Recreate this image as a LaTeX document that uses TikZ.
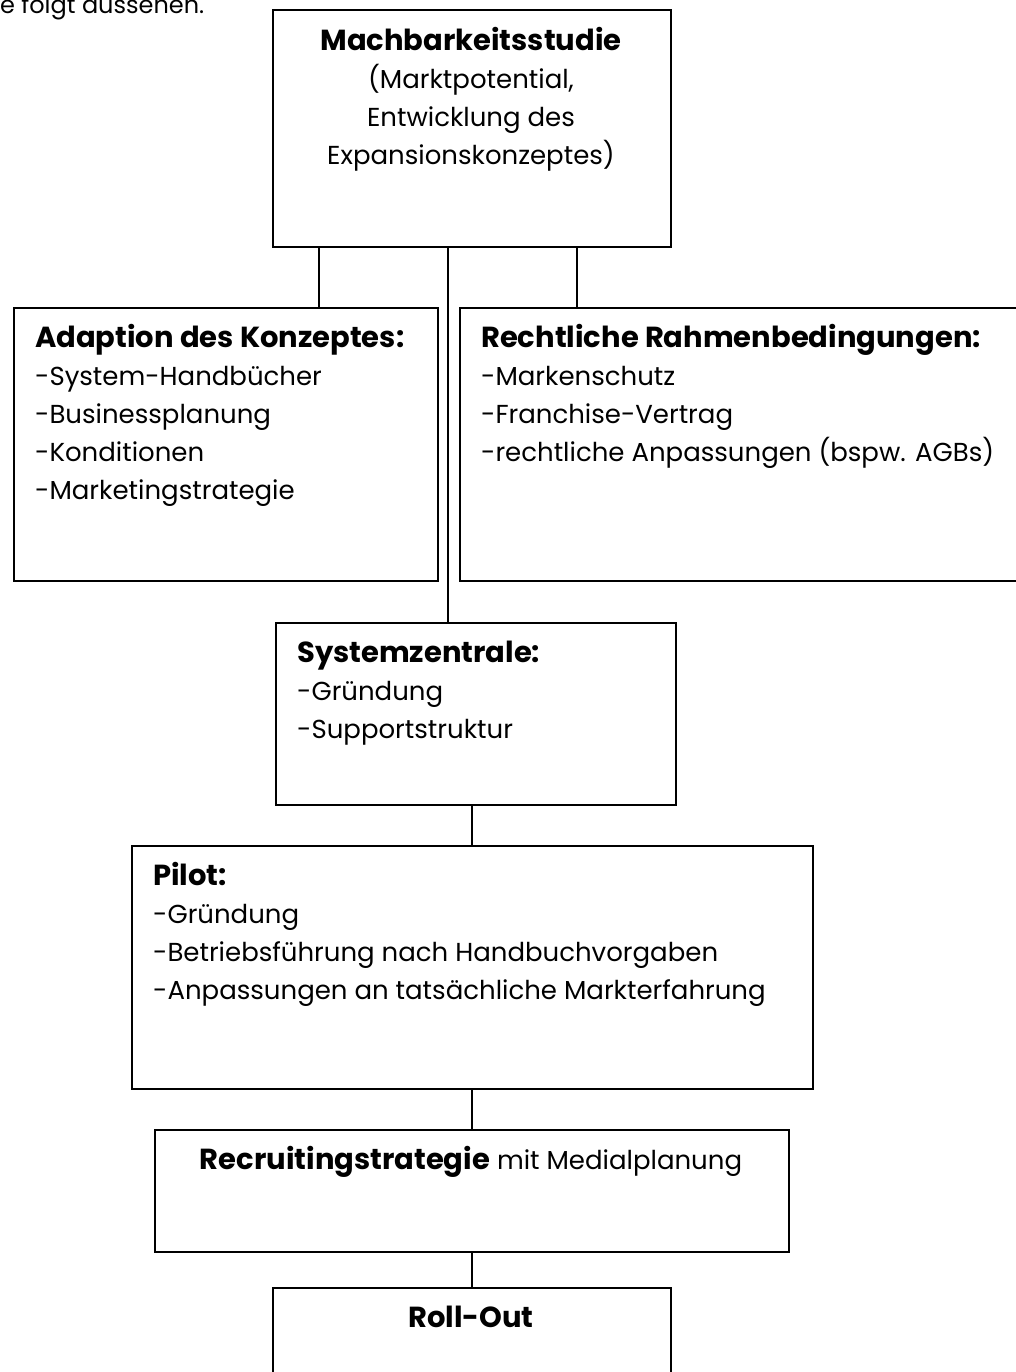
\documentclass[tikz,border=0pt]{standalone}
\usepackage{fontspec}
\setmainfont{Poppins}
\usetikzlibrary{positioning,calc}
\colorlet{penColor}{black}
\tikzset{
  stage/.style={draw=penColor, line width=2pt, rectangle, inner sep=0pt, anchor=north west},
  link/.style={draw=penColor, line width=1.6pt},
  txt/.style={inner sep=0pt, text=penColor, font=\fontsize{26}{38}\selectfont},
}
\newcommand{\boxlines}[2]{\begin{tabular}[t]{@{}#1@{}}#2\end{tabular}}
\newcommand{\hd}[1]{{\fontsize{29}{38}\selectfont\bfseries #1}}

\begin{document}
\begin{tikzpicture}[x=1pt,y=-1pt]
\useasboundingbox (0,0) rectangle (1016,1372);
% boxes
\node[stage, minimum width=398pt, minimum height=237pt] (studie) at (272,9) {};
\node[stage, minimum width=424pt, minimum height=273pt] (adaption) at (13,307) {};
\node[stage, minimum width=600pt, minimum height=273pt] (recht) at (459,307) {};
\node[stage, minimum width=400pt, minimum height=182pt] (zentrale) at (275,622) {};
\node[stage, minimum width=681pt, minimum height=243pt] (pilot) at (131,845) {};
\node[stage, minimum width=634pt, minimum height=122pt] (recruit) at (154,1129) {};
\node[stage, minimum width=398pt, minimum height=150pt] (rollout) at (272,1287) {};
% texts
\node[txt, anchor=base west, font=\fontsize{24}{38}\selectfont] (intro) at (0,14) {e folgt aussehen.};
\node[txt, anchor=base] (studietxt) at (471,51) {\boxlines{c}{\hd{Machbarkeitsstudie}\\(Marktpotential,\\Entwicklung des\\Expansionskonzeptes)}};
\node[txt, anchor=base west] (adaptiontxt) at (35,347) {\boxlines{l}{\hd{Adaption des Konzeptes:}\\-System-Handbücher\\-Businessplanung\\-Konditionen\\-Marketingstrategie}};
\node[txt, anchor=base west] (rechttxt) at (481,347) {\boxlines{l}{\hd{Rechtliche Rahmenbedingungen:}\\-Markenschutz\\-Franchise-Vertrag\\-rechtliche Anpassungen (bspw. AGBs)}};
\node[txt, anchor=base west] (zentraletxt) at (297,662) {\boxlines{l}{\hd{Systemzentrale:}\\-Gründung\\-Supportstruktur}};
\node[txt, anchor=base west] (pilottxt) at (153,885) {\boxlines{l}{\hd{Pilot:}\\-Gründung\\-Betriebsführung nach Handbuchvorgaben\\-Anpassungen an tatsächliche Markterfahrung}};
\node[txt, anchor=base] (recruittxt) at (471,1169) {\hd{Recruitingstrategie} mit Medialplanung};
\node[txt, anchor=base] (rollouttxt) at (471,1327) {\hd{Roll-Out}};
% connectors
\coordinate (s1) at ([xshift=47pt]studie.south west);
\coordinate (s2) at ([xshift=176pt]studie.south west);
\coordinate (s3) at ([xshift=305pt]studie.south west);
\draw[link] (s1) -- (s1 |- adaption.north);
\draw[link] (s2) -- (s2 |- zentrale.north);
\draw[link] (s3) -- (s3 |- recht.north);
\draw[link] (recruit.north |- pilot.north) -- (recruit.north |- zentrale.south);
\draw[link] (recruit.north) -- (recruit.north |- pilot.south);
\draw[link] (rollout.north) -- (rollout.north |- recruit.south);
\end{tikzpicture}
\end{document}
